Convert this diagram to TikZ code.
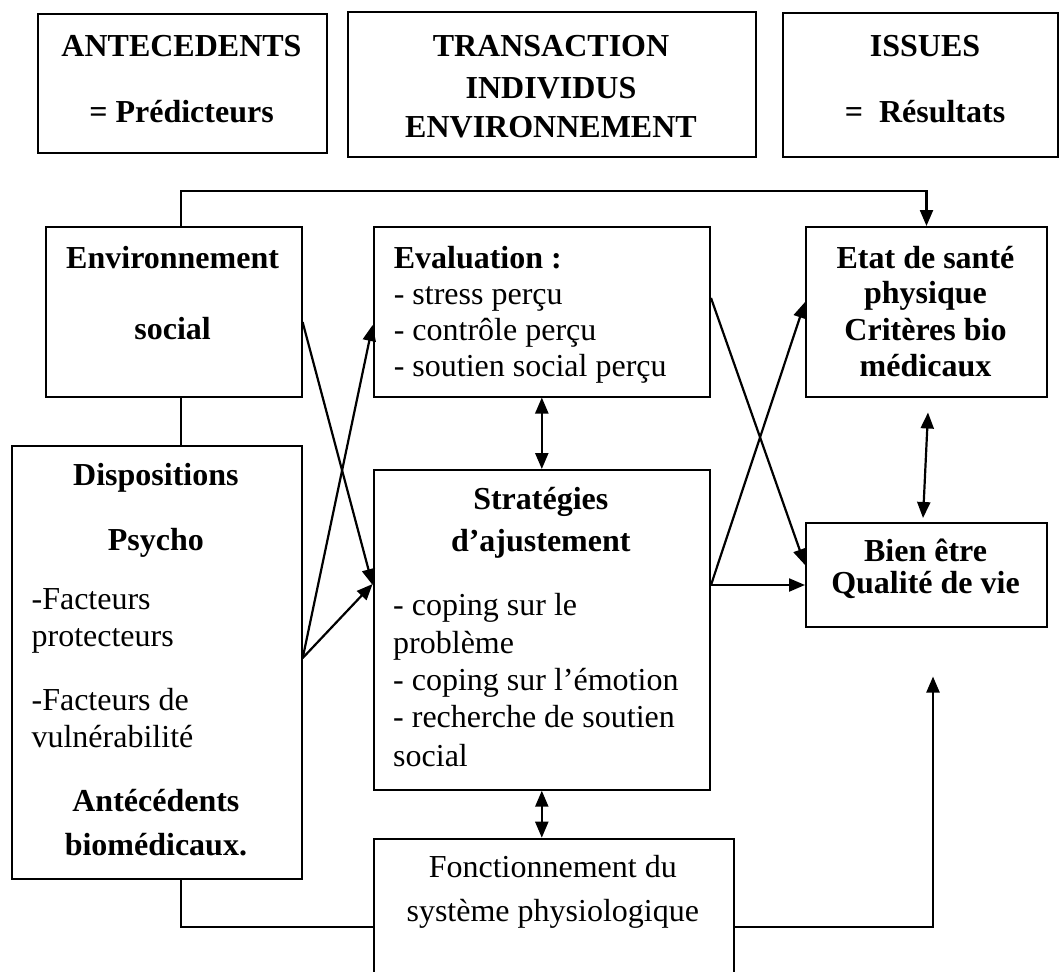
\documentclass[tikz,border=0pt]{standalone}
\usepackage{fontspec}
\setmainfont{Liberation Serif}
\usetikzlibrary{arrows.meta,calc}
\begin{document}
\begin{tikzpicture}[x=1pt,y=-1pt,
  box/.style={draw, line width=2pt, inner sep=0, anchor=north west},
  tx/.style={inner sep=0, anchor=base, font=\fontsize{32}{37}\selectfont},
  tb/.style={tx, font=\fontsize{32}{37}\selectfont\bfseries},
  tl/.style={tx, anchor=base west},
  conn/.style={line width=2.2pt},
  arr/.style={conn, -{Triangle[length=16pt,width=13pt]}},
  darr/.style={conn, {Triangle[length=16pt,width=13pt]}-{Triangle[length=16pt,width=13pt]}},
]
\useasboundingbox (0,0) rectangle (1059,971);

% header boxes
\node[box, minimum width=289pt, minimum height=139pt] (antec) at (37,13) {};
\node[box, minimum width=408pt, minimum height=145pt] (trans) at (347,11) {};
\node[box, minimum width=275pt, minimum height=144pt] (issues) at (782,12) {};

% main boxes
\node[box, minimum width=256pt, minimum height=169.5pt] (env) at (44.6,226) {};
\node[box, minimum width=336.4pt, minimum height=169.5pt] (eval) at (372.6,226) {};
\node[box, minimum width=241pt, minimum height=169.5pt] (etat) at (805,226) {};
\node[box, minimum width=289.7pt, minimum height=433pt] (disp) at (11,444.5) {};
\node[box, minimum width=336.4pt, minimum height=319.7pt] (strat) at (372.6,469) {};
\node[box, minimum width=241pt, minimum height=104pt] (bien) at (805,522) {};
\node[box, minimum width=360.4pt, minimum height=176.6pt] (fonct) at (372.6,837.7) {};

% header texts
\node[tb] (h1a) at (181.5,57) {ANTECEDENTS};
\node[tb] (h1b) at (181.5,123) {= Prédicteurs};
\node[tb] (h2a) at (551,57) {TRANSACTION};
\node[tb] (h2b) at (551,99) {INDIVIDUS};
\node[tb] (h2c) at (551,137) {ENVIRONNEMENT};
\node[tb] (h3a) at (925,57) {ISSUES};
\node[tb] (h3b) at (925,123) {=\ \ Résultats};

% env
\node[tb] (e1) at (172.6,268) {Environnement};
\node[tb] (e2) at (172.6,339) {social};

% eval
\node[tl, font=\fontsize{32}{37}\selectfont\bfseries] (v1) at (393.6,268) {Evaluation :};
\node[tl] (v2) at (393.6,304) {- stress perçu};
\node[tl] (v3) at (393.6,340.5) {- contrôle perçu};
\node[tl] (v4) at (393.6,376) {- soutien social perçu};

% etat
\node[tb] (s1) at (925.5,268) {Etat de santé};
\node[tb] (s2) at (925.5,303) {physique};
\node[tb] (s3) at (925.5,340.5) {Critères bio};
\node[tb] (s4) at (925.5,376) {médicaux};

% dispositions
\node[tb] (d1) at (155.9,485.7) {Dispositions};
\node[tb] (d2) at (155.9,550) {Psycho};
\node[tl] (d3) at (31.4,609) {-Facteurs};
\node[tl] (d4) at (31.4,646) {protecteurs};
\node[tl] (d5) at (31.4,710) {-Facteurs de};
\node[tl] (d6) at (31.4,747.5) {vulnérabilité};
\node[tb] (d7) at (155.9,811.7) {Antécédents};
\node[tb] (d8) at (155.9,855.6) {biomédicaux.};

% strategies
\node[tb] (g1) at (540.8,509) {Stratégies};
\node[tb] (g2) at (540.8,551.6) {d’ajustement};
\node[tl] (g3) at (393,615.7) {- coping sur le};
\node[tl] (g4) at (393,653) {problème};
\node[tl] (g5) at (393,690) {- coping sur l’émotion};
\node[tl] (g6) at (393,727) {- recherche de soutien};
\node[tl] (g7) at (393,766) {social};

% bien etre
\node[tb] (b1) at (925.5,561.8) {Bien être};
\node[tb] (b2) at (925.5,593.8) {Qualité de vie};

% fonctionnement
\node[tx] (f1) at (552.8,877.6) {Fonctionnement du};
\node[tx] (f2) at (552.8,921.5) {système physiologique};

% connectors
\coordinate (xl) at (181,0);
\coordinate (q) at (933,676.5);
\draw[arr] (env.north -| xl) -- ++(0,-35) -| (etat.north);
\draw[conn] (env.south -| xl) -- (disp.north -| xl);
\draw[arr] ($(env.north east)+(0,96)$) -- ($(strat.north west)+(0,116)$);
\draw[arr] ($(disp.north east)+(0,213.5)$) -- ($(strat.north west)+(0,115)$);
\draw[arr] ($(disp.north east)+(0,213.5)$) -- ($(eval.north west)+(0,99)$);
\draw[darr] (eval.south) -- (strat.north);
\draw[arr] ($(eval.north east)+(0,72)$) -- ($(bien.north west)+(0,43)$);
\draw[arr] ($(strat.north east)+(0,116)$) -- ($(etat.north west)+(0,76)$);
\draw[arr] ($(strat.north east)+(0,116)$) -- ($(bien.north west)+(0,63)$);
\draw[darr] ($(etat.south)+(1.5,15)$) -- ($(bien.north)+(-3.5,-4)$);
\draw[darr] (strat.south) -- (strat.south |- fonct.north);
\draw[conn] (disp.south -| xl) |- (fonct.west);
\draw[arr] (fonct.east) -| (q);
\end{tikzpicture}
\end{document}
